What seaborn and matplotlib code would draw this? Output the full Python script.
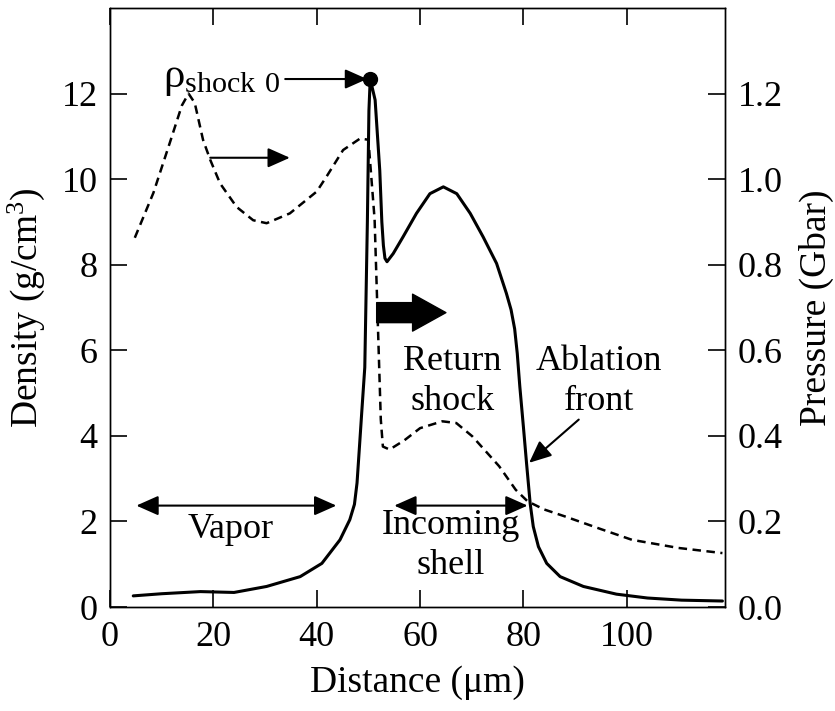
import numpy as np
import pandas as pd
import matplotlib
matplotlib.use("Agg")
import matplotlib.pyplot as plt
import seaborn as sns

# Density profile (solid line, left axis)
dist_rho = [4.5, 10, 17.5, 24, 30.3, 36.8, 41.0, 44.5, 46.4, 47.3, 47.8, 48.3,
            48.7, 49.3, 49.8, 50.1, 50.35, 51.3, 52.2, 52.6, 52.9, 53.2, 53.6,
            54.8, 56.7, 59.3, 61.9, 64.5, 67.1, 69.7, 72.2, 74.8, 76.7, 77.6,
            78.3, 78.8, 79.3, 80.0, 80.6, 81.3, 81.9, 82.9, 84.5, 87.1, 91.6,
            98, 104, 110.6, 118.5]
density = [0.26, 0.31, 0.36, 0.34, 0.48, 0.71, 1.02, 1.57, 2.04, 2.4, 2.9,
           3.8, 4.53, 5.6, 9.0, 11.6, 12.34, 11.85, 10.2, 9.0, 8.45, 8.15,
           8.07, 8.26, 8.65, 9.2, 9.66, 9.82, 9.66, 9.2, 8.65, 8.03, 7.33,
           6.95, 6.5, 5.93, 5.15, 4.2, 3.36, 2.42, 1.88, 1.41, 1.02, 0.71,
           0.48, 0.3, 0.21, 0.16, 0.14]

# Pressure profile (dashed line, right axis)
dist_p = [4.8, 8.4, 11.6, 13.9, 15.2, 16.4, 18.0, 19.4, 21.3, 24.5, 27.7, 30.3,
          34.8, 40.0, 41.9, 45.1, 48.4, 50.0, 51.2, 51.8, 52.4, 52.8, 54.1, 57,
          60, 64.3, 67, 70.1, 73, 75.3, 78.5, 80.8, 84, 88.2, 95, 101, 110,
          118.5]
pressure = [0.863, 0.968, 1.086, 1.172, 1.200, 1.178, 1.092, 1.045, 0.990,
            0.935, 0.904, 0.897, 0.920, 0.971, 1.006, 1.068, 1.095, 1.092,
            0.906, 0.672, 0.438, 0.375, 0.368, 0.390, 0.418, 0.434, 0.430,
            0.399, 0.360, 0.329, 0.274, 0.247, 0.228, 0.211, 0.182, 0.157,
            0.138, 0.126]

x_ticks = [0, 20, 40, 60, 80, 100]
rho_ticks = [0, 2, 4, 6, 8, 10, 12]
p_ticks = [0.0, 0.2, 0.4, 0.6, 0.8, 1.0, 1.2]

sns.set_style("ticks")
plt.rcParams["font.family"] = ["Liberation Serif", "DejaVu Serif"]
plt.rcParams["mathtext.fontset"] = "custom"
plt.rcParams["mathtext.rm"] = "Liberation Serif"
plt.rcParams["axes.linewidth"] = 1.0
for key in ("text.color", "axes.labelcolor", "xtick.color", "ytick.color",
            "axes.edgecolor"):
    plt.rcParams[key] = "black"

FS = 26

df_rho = pd.DataFrame({"x": dist_rho, "y": density})
df_p = pd.DataFrame({"x": dist_p, "y": pressure})

fig = plt.figure(figsize=(8.35, 7.11), dpi=100)
ax = fig.add_axes([110 / 835, 104 / 711, 615 / 835, 599 / 711])
ax2 = ax.twinx()

sns.lineplot(data=df_rho, x="x", y="y", ax=ax, color="black", lw=2.2)
sns.lineplot(data=df_p, x="x", y="y", ax=ax2, color="black", lw=1.8,
             linestyle=(0, (3.4, 2.2)))

# peak density marker
i_peak = int(np.argmax(density))
ax.plot(dist_rho[i_peak], density[i_peak], "o", color="black", ms=10, zorder=5)

ax.set_xlim(0, 119)
ax.set_ylim(0, 14)
ax2.set_ylim(0, 1.4)

ax.set_xticks(x_ticks)
ax.set_yticks(rho_ticks)
ax2.set_yticks(p_ticks)
ax2.set_yticklabels([f"{v:.1f}" for v in p_ticks])

ax.tick_params(direction="in", length=12, width=1.2, labelsize=FS,
               top=True, right=False, pad=9)
ax.tick_params(axis="x", pad=10)
ax2.tick_params(direction="in", length=12, width=1.2, labelsize=FS, pad=9)

ax.set_xlabel("Distance (μm)", fontsize=27, labelpad=8)
ax.set_ylabel("Density (g/cm$\\mathregular{^3}$)", fontsize=27, labelpad=10)
ax2.set_ylabel("Pressure (Gbar)", fontsize=27, labelpad=12)
for a in (ax, ax2):
    for s in a.spines.values():
        s.set_visible(True)
        s.set_color("black")

thin = dict(arrowstyle="-|>,head_length=0.45,head_width=0.2",
            color="black", lw=1.5, mutation_scale=30, shrinkA=0, shrinkB=0)
both = dict(arrowstyle="<|-|>,head_length=0.45,head_width=0.2",
            color="black", lw=1.5, mutation_scale=30, shrinkA=0, shrinkB=0)

ax.text(33.0, 12.34, "$\\mathregular{\\rho_{shock\\ 0}}$", fontsize=31,
        ha="right", va="center")
ax.annotate("", xy=(dist_rho[i_peak] - 0.6, density[i_peak]),
            xytext=(33.9, density[i_peak]), arrowprops=thin)

ax.annotate("", xy=(34.8, 10.5), xytext=(19.4, 10.5), arrowprops=thin)

ax.annotate("", xy=(65.0, 6.88), xytext=(51.6, 6.88),
            arrowprops=dict(arrowstyle="simple,head_length=1.2,head_width=1.33,tail_width=0.72",
                            color="black", mutation_scale=20,
                            shrinkA=0, shrinkB=0))

ax.text(66.3, 5.26, "Return\nshock", fontsize=FS, ha="center", va="center",
        linespacing=1.28)
ax.text(94.6, 5.26, "Ablation\nfront", fontsize=FS, ha="center", va="center",
        linespacing=1.28)
ax.annotate("", xy=(81.1, 3.37), xytext=(90.7, 4.38), arrowprops=thin)

ax.annotate("", xy=(43.8, 2.37), xytext=(5.1, 2.37), arrowprops=both)
ax.text(23.3, 1.8, "Vapor", fontsize=FS, ha="center", va="center")

ax.annotate("", xy=(80.8, 2.37), xytext=(55.0, 2.37), arrowprops=both)
ax.text(66.0, 1.43, "Incoming\nshell", fontsize=FS, ha="center", va="center",
        linespacing=1.28)

fig.savefig("out.png", dpi=100)
